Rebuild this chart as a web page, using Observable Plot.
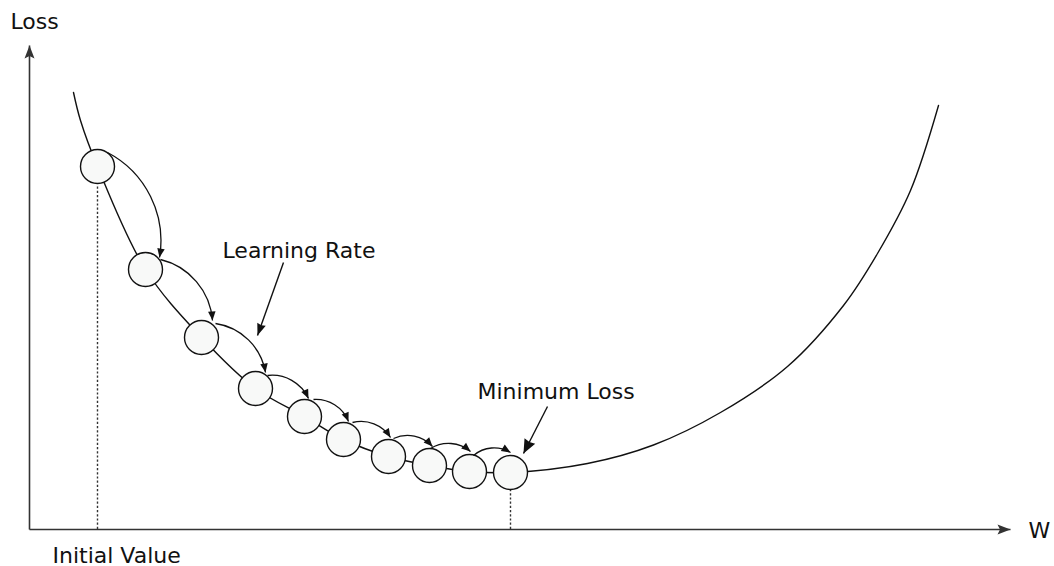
<!DOCTYPE html>
<html>
<head>
<meta charset="utf-8">
<script src="https://cdn.jsdelivr.net/npm/d3@7"></script>
<script src="https://cdn.jsdelivr.net/npm/@observablehq/plot@0.6"></script>
<style>
  html, body { margin: 0; padding: 0; background: #fff; }
  #chart svg { display: block; }
</style>
</head>
<body>
<div id="chart"></div>
<script>
// ---- data (W and Loss in arbitrary units, origin at the axes' corner) ----
// loss curve: left branch, the descent steps, right branch
const curveW    = [4.4, 5.1, 6.8, 11.6, 17.2, 22.6, 27.5, 31.4, 35.9, 40.0, 44.0, 48.1, 55.8, 62.4, 69.1, 75.8, 81.4, 84.8, 88.1, 90.9];
const curveLoss = [43.7, 40.9, 36.3, 26.0, 19.2, 14.1, 11.3, 9.0, 7.3, 6.4, 5.8, 5.7, 6.6, 8.45, 11.7, 16.3, 22.4, 27.6, 33.9, 42.4];

// gradient-descent steps (circles)
const stepW    = [6.8, 11.6, 17.2, 22.6, 27.5, 31.4, 35.9, 40.0, 44.0, 48.1];
const stepLoss = [36.3, 26.0, 19.2, 14.1, 11.3, 9.0, 7.3, 6.4, 5.8, 5.7];

// curved "learning rate" hops between steps
const hopW1    = [7.8, 13.1, 18.6, 23.8, 28.4, 32.3, 36.4, 40.1, 44.4];
const hopLoss1 = [37.7, 27.0, 20.6, 15.4, 13.0, 10.7, 9.1, 8.1, 7.4];
const hopW2    = [13.0, 18.3, 23.6, 27.9, 31.9, 36.1, 40.3, 44.1, 48.1];
const hopLoss2 = [27.2, 20.9, 15.7, 13.1, 10.8, 9.2, 8.3, 7.8, 7.7];

// dotted guides (initial value, minimum)
const guideW    = [6.8, 48.1];
const guideLoss = [34.4, 4.0];

// annotations
const labelText = ["Learning Rate", "Minimum Loss"];
const labelW    = [19.3, 44.8];
const labelLoss = [27.2, 13.1];
const pointerW1    = [25.4, 51.8];
const pointerLoss1 = [26.7, 12.3];
const pointerW2    = [22.8, 49.4];
const pointerLoss2 = [19.4, 7.6];
const pointerHead  = [[12, 9], [14, 12]];

// axes
const axisEndW = 98.1;
const axisEndLoss = 48.4;
const axisLabelText = ["Loss", "W", "Initial Value"];
const axisLabelW    = [-1.9, 99.9, 2.3];
const axisLabelLoss = [50.1, -0.8, -3.3];

// ---- tables ----
const curveData = curveW.map((w, i) => ({w, loss: curveLoss[i]}));
const steps = stepW.map((w, i) => ({w, loss: stepLoss[i]}));
const hops = hopW1.map((w, i) => ({w1: w, l1: hopLoss1[i], w2: hopW2[i], l2: hopLoss2[i]}));
const guides = guideW.map((w, i) => ({w, loss: guideLoss[i]}));
const labels = labelText.map((t, i) => ({t, w: labelW[i], loss: labelLoss[i]}));
const pointers = pointerW1.map((w, i) => ({w1: w, l1: pointerLoss1[i], w2: pointerW2[i], l2: pointerLoss2[i]}));
const axisLabels = axisLabelText.map((t, i) => ({t, w: axisLabelW[i], loss: axisLabelLoss[i]}));

// ---- helpers ----
function tri(len, wid, notch = 0) {
  return (color) => {
    const m = d3.create("svg:marker")
      .attr("viewBox", `${-len} ${-wid / 2} ${len} ${wid}`)
      .attr("markerWidth", len)
      .attr("markerHeight", wid)
      .attr("markerUnits", "userSpaceOnUse")
      .attr("refX", 0).attr("refY", 0)
      .attr("orient", "auto")
      .attr("overflow", "visible");
    m.append("path")
      .attr("d", `M${-len},${-wid / 2}L0,0L${-len},${wid / 2}L${-len + notch},0Z`)
      .attr("fill", color).attr("stroke", "none");
    return m.node();
  };
}

// circular-arc curve between two points (bend angle in degrees, clockwise)
function arcCurve(bendDeg) {
  const b = bendDeg * Math.PI / 180;
  return (context) => {
    let pts = [];
    return {
      areaStart() {}, areaEnd() {},
      lineStart() { pts = []; },
      point(x, y) { pts.push([+x, +y]); },
      lineEnd() {
        if (pts.length < 2) return;
        const [x1, y1] = pts[0], [x2, y2] = pts[pts.length - 1];
        const dx = x2 - x1, dy = y2 - y1, L = Math.hypot(dx, dy);
        const r = L / 2 / Math.sin(b);
        const h = (L / 2) / Math.tan(b);
        const nx = -dy / L, ny = dx / L;
        const cx = (x1 + x2) / 2 + nx * h, cy = (y1 + y2) / 2 + ny * h;
        const a0 = Math.atan2(y1 - cy, x1 - cx), a1 = Math.atan2(y2 - cy, x2 - cx);
        context.moveTo(x1, y1);
        context.arc(cx, cy, r, a0, a1, false);
      }
    };
  };
}

const ink = "#111";
const font = "DejaVu Sans";

const chart = Plot.plot({
  width: 1054,
  height: 566,
  marginTop: 0, marginRight: 0, marginBottom: 0, marginLeft: 0,
  x: {domain: [-2.9, 102.5], axis: null},
  y: {domain: [-3.7, 52.9], axis: null},
  style: {fontFamily: font, background: "#fff"},
  marks: [
    // axes with arrowheads
    Plot.link([{w1: 0, l1: 0, w2: 0, l2: axisEndLoss}, {w1: 0, l1: 0, w2: axisEndW, l2: 0}], {
      x1: "w1", y1: "l1", x2: "w2", y2: "l2",
      stroke: "#333", strokeWidth: 1.6, markerEnd: tri(13, 10, 2.5)
    }),
    // dotted guides
    Plot.ruleX(guides, {x: "w", y1: 0, y2: "loss", stroke: "#333", strokeWidth: 1.4, strokeDasharray: "2.2,2"}),
    // loss curve
    Plot.line(curveData, {x: "w", y: "loss", curve: "catmull-rom", stroke: ink, strokeWidth: 1.4}),
    // steps
    Plot.dot(steps, {x: "w", y: "loss", r: 17, fill: "#f8f9f8", stroke: ink, strokeWidth: 1.4}),
    // curved hops
    Plot.link(hops, {
      x1: "w1", y1: "l1", x2: "w2", y2: "l2",
      curve: arcCurve(36), stroke: ink, strokeWidth: 1.3, markerEnd: tri(9, 7.5)
    }),
    // annotation pointers
    Plot.link([pointers[0]], {x1: "w1", y1: "l1", x2: "w2", y2: "l2", stroke: ink, strokeWidth: 1.4, markerEnd: tri(pointerHead[0][0], pointerHead[0][1], 1)}),
    Plot.link([pointers[1]], {x1: "w1", y1: "l1", x2: "w2", y2: "l2", stroke: ink, strokeWidth: 1.4, markerEnd: tri(pointerHead[1][0], pointerHead[1][1], 1)}),
    // texts
    Plot.text(labels, {x: "w", y: "loss", text: "t", textAnchor: "start", lineAnchor: "bottom", fontSize: 22, fill: ink, fontFamily: font}),
    Plot.text(axisLabels, {x: "w", y: "loss", text: "t", textAnchor: "start", lineAnchor: "bottom", fontSize: 22, fill: ink, fontFamily: font})
  ]
});
document.getElementById("chart").appendChild(chart);
</script>
</body>
</html>
